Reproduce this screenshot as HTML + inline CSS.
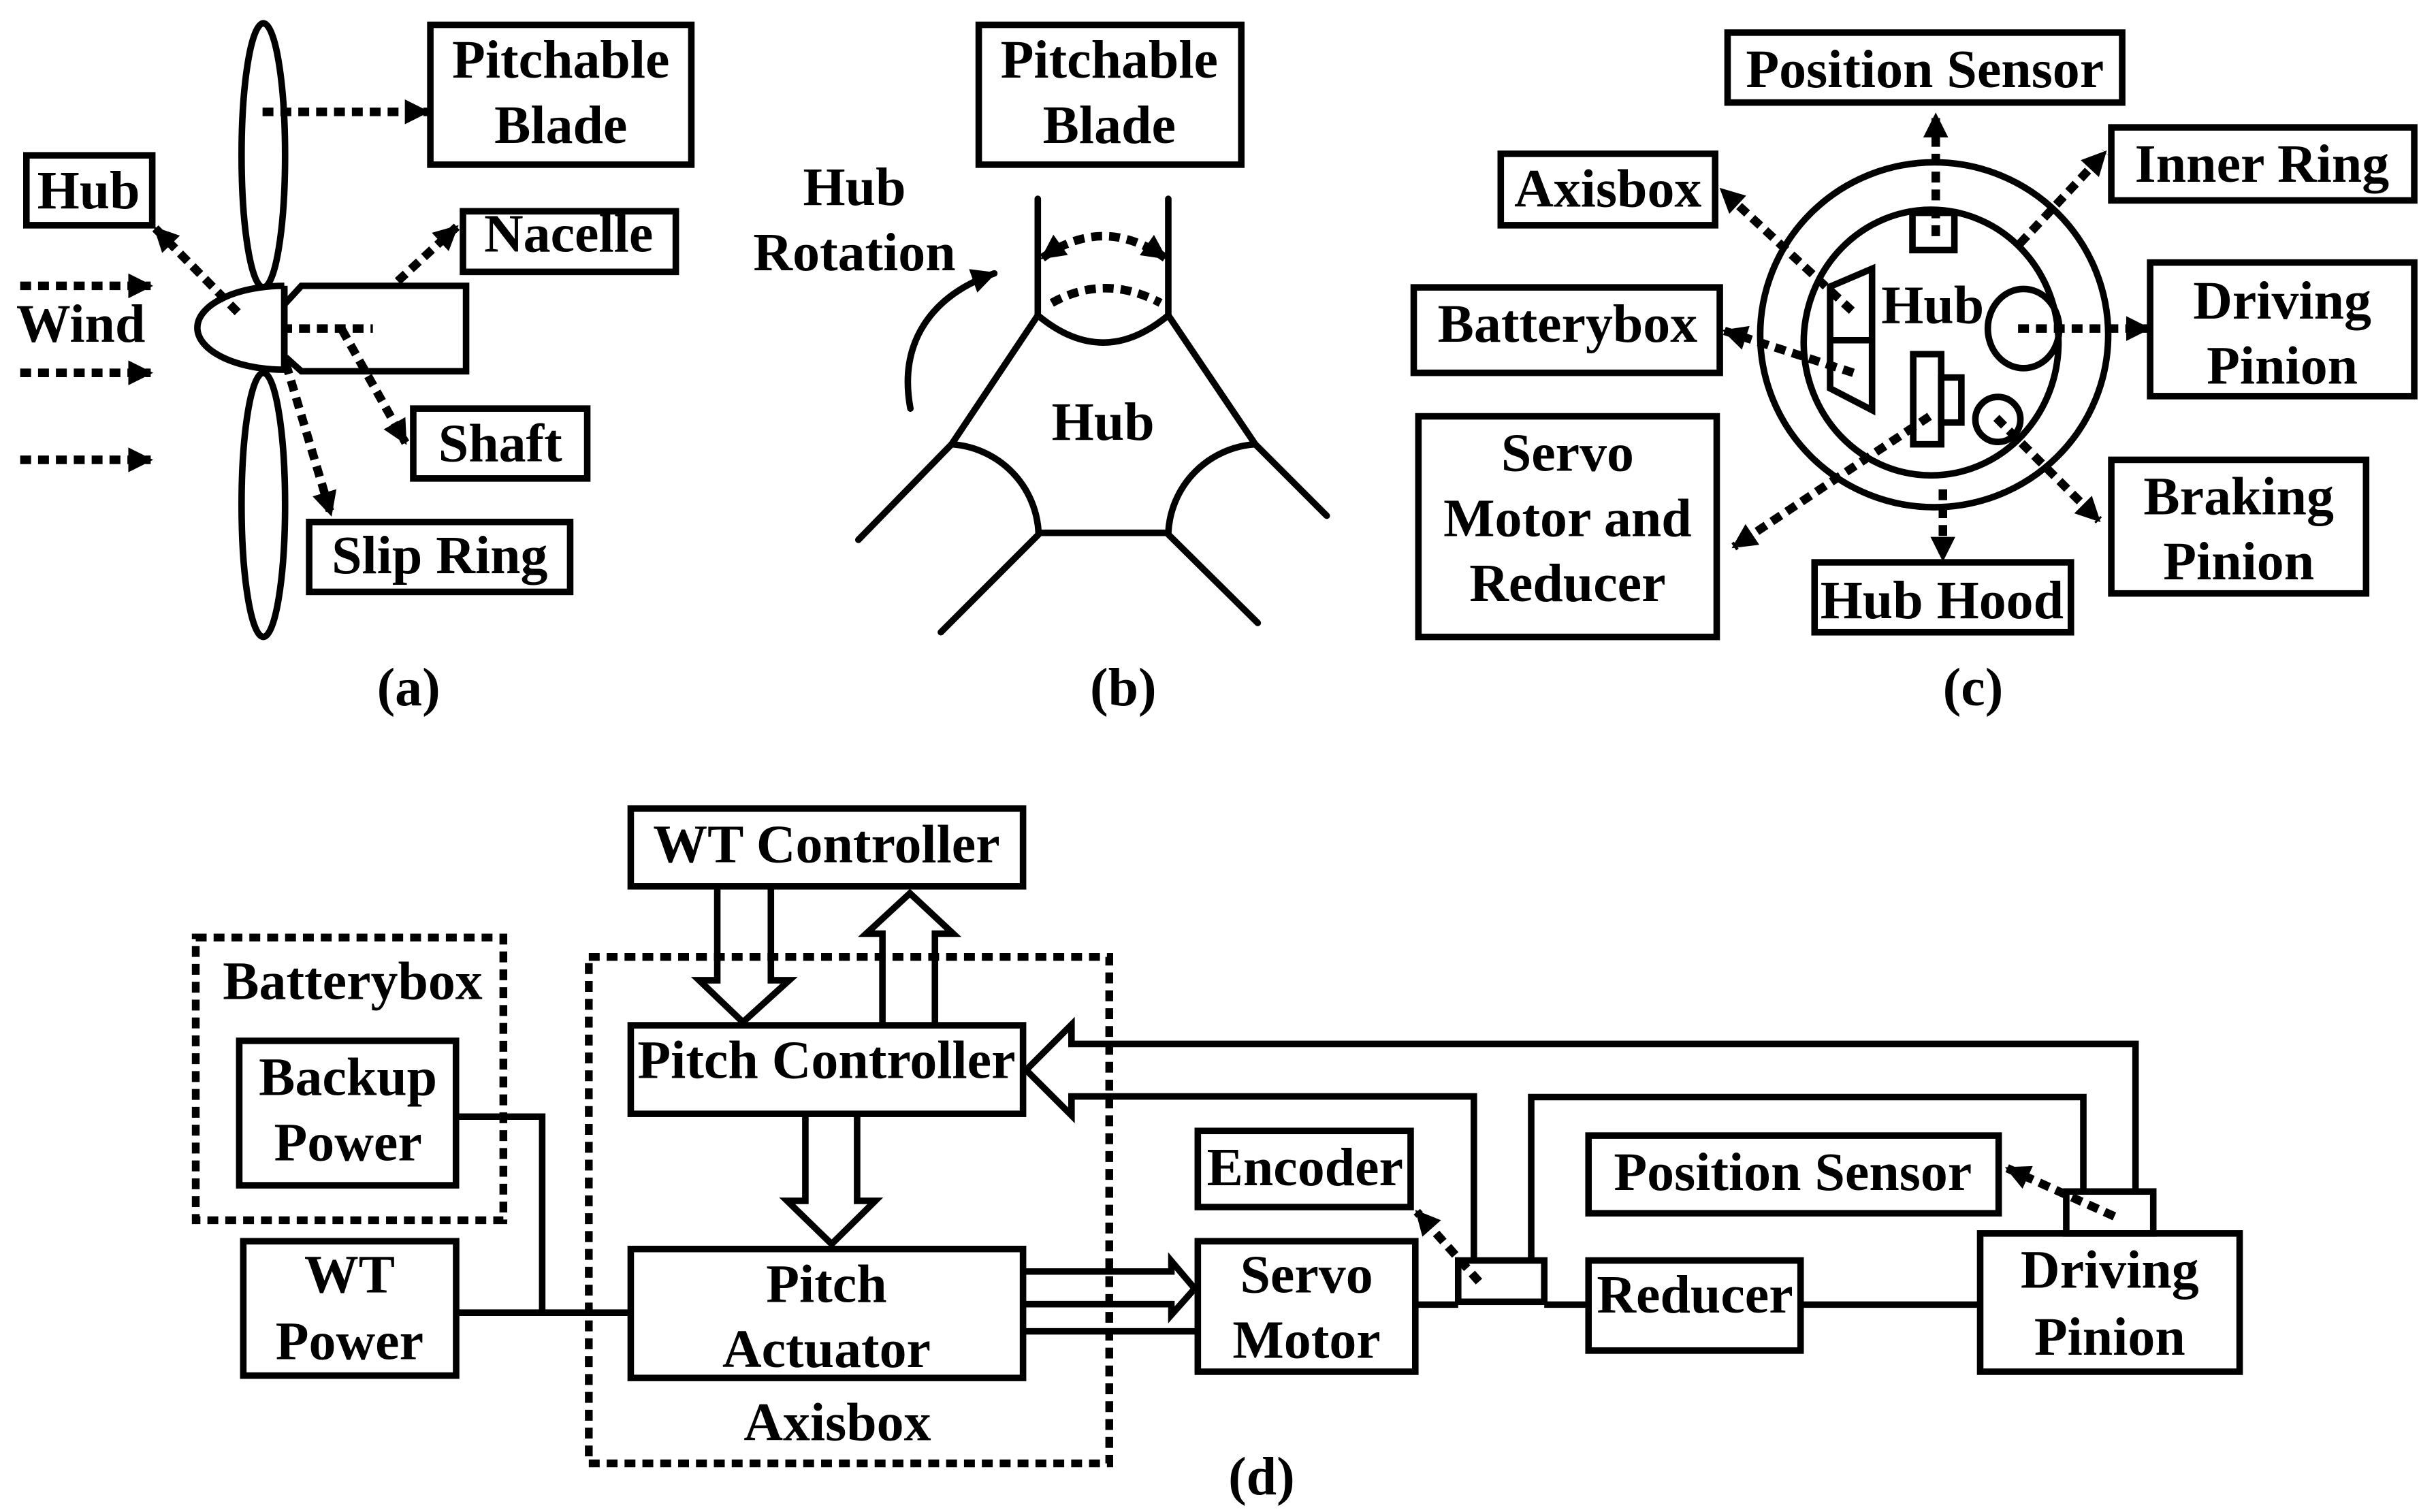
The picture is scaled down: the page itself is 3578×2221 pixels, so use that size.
<!DOCTYPE html>
<html><head><meta charset="utf-8"><style>
html,body{margin:0;padding:0;background:#fff;}
svg{display:block;}
text{font-family:"Liberation Serif",serif;font-weight:bold;font-size:35px;text-anchor:middle;fill:#000;}
</style></head><body>
<svg width="3578" height="2221" viewBox="0 0 1568 973.3" preserveAspectRatio="none" xmlns="http://www.w3.org/2000/svg">
<defs>
<marker id="ah" viewBox="0 0 10 10" refX="9" refY="5" markerWidth="18" markerHeight="16" markerUnits="userSpaceOnUse" orient="auto-start-reverse"><path d="M0,0 L10,5 L0,10 z" fill="#000"/></marker>
</defs>
<g fill="none" stroke="#000" stroke-width="4.2" stroke-linejoin="miter">
<!-- Panel (a) -->
<rect x="277" y="16" width="168" height="90"/>
<rect x="17" y="100" width="81" height="45"/>
<rect x="298" y="136" width="137" height="39"/>
<rect x="266" y="263" width="112" height="45"/>
<rect x="199" y="336" width="168" height="45"/>
<ellipse cx="169.5" cy="100" rx="14" ry="85"/>
<ellipse cx="169.5" cy="325" rx="14" ry="85"/>
<path d="M183,184 L183,238 A56,27 0 0 1 183,184" fill="#fff"/>
<path d="M183,196 L194,184 L300,184 L300,239 L194,239 L184,230"/>
<line x1="183" y1="184" x2="183" y2="238"/>
</g>
<g fill="none" stroke="#000" stroke-width="5.5" stroke-dasharray="7 4.5">
<line x1="169" y1="72" x2="275" y2="72" marker-end="url(#ah)"/>
<line x1="153" y1="201" x2="100" y2="147" marker-end="url(#ah)"/>
<line x1="256" y1="181" x2="294" y2="146" marker-end="url(#ah)"/>
<line x1="13" y1="184" x2="97" y2="184" marker-end="url(#ah)"/>
<line x1="13" y1="240" x2="97" y2="240" marker-end="url(#ah)"/>
<line x1="13" y1="296" x2="97" y2="296" marker-end="url(#ah)"/>
<line x1="181" y1="211.5" x2="240" y2="211.5"/>
<line x1="220" y1="212" x2="261" y2="285" marker-end="url(#ah)"/>
<line x1="184" y1="234" x2="213" y2="331" marker-end="url(#ah)"/>
</g>
<text x="361" y="50">Pitchable</text><text x="361" y="92">Blade</text>
<text x="57" y="134">Hub</text>
<text x="366" y="162">Nacelle</text>
<text x="322" y="297">Shaft</text>
<text x="283" y="369">Slip Ring</text>
<text x="52" y="220">Wind</text>
<text x="263" y="454">(a)</text>

<!-- Panel (b) -->
<g fill="none" stroke="#000" stroke-width="4.2" stroke-linecap="round">
<rect x="630" y="16" width="169" height="90" stroke-linecap="butt"/>
<line x1="668" y1="128" x2="668" y2="203"/>
<line x1="752" y1="128" x2="752" y2="203"/>
<path d="M668,203 Q710,238 752,203"/>
<line x1="668" y1="203" x2="612.5" y2="286"/>
<line x1="752" y1="203" x2="808" y2="286"/>
<path d="M612.5,286 A60,60 0 0 1 668.5,343"/>
<line x1="668.5" y1="343" x2="752" y2="343"/>
<path d="M752,343 A60,60 0 0 1 808,286"/>
<line x1="612.5" y1="286" x2="552.5" y2="347.5"/>
<line x1="808" y1="286" x2="854" y2="332"/>
<line x1="668.5" y1="344" x2="605.6" y2="407"/>
<line x1="752" y1="344" x2="809.6" y2="401"/>
<path d="M586,263 C578,220 600,190 640,176" marker-end="url(#ah)"/>
</g>
<g fill="none" stroke="#000" stroke-width="5.5" stroke-dasharray="7 4.5">
<path d="M677,195 Q711,176 747,195"/>
<path d="M671,166 Q710,138 750,166" marker-start="url(#ah)" marker-end="url(#ah)"/>
</g>
<text x="714" y="50">Pitchable</text><text x="714" y="92">Blade</text>
<text x="710" y="283">Hub</text>
<text x="550" y="132">Hub</text><text x="550" y="174">Rotation</text>
<text x="723" y="454">(b)</text>

<!-- Panel (c) -->
<g fill="none" stroke="#000" stroke-width="4.2">
<rect x="1112" y="21" width="254" height="45"/>
<rect x="1359" y="82" width="195" height="47"/>
<rect x="966" y="99" width="138" height="46"/>
<rect x="910" y="185" width="197" height="55"/>
<rect x="1384" y="169" width="170" height="86"/>
<rect x="913" y="268" width="192" height="142"/>
<rect x="1359" y="296" width="164" height="86"/>
<rect x="1168" y="362" width="165" height="45"/>
<ellipse cx="1245" cy="215.5" rx="112" ry="111"/>
<ellipse cx="1243" cy="220.5" rx="82" ry="85.5"/>
<rect x="1231" y="137" width="27" height="24"/>
<polygon points="1178,184.5 1205,173 1205,264 1178,250"/>
<line x1="1178" y1="219" x2="1205" y2="219"/>
<ellipse cx="1302.5" cy="211.5" rx="23" ry="25.5"/>
<rect x="1231.5" y="228" width="18" height="58"/>
<rect x="1249.5" y="243" width="13" height="29"/>
<circle cx="1286" cy="270" r="14.5"/>
</g>
<g fill="none" stroke="#000" stroke-width="5.5" stroke-dasharray="7 4.5">
<line x1="1246" y1="152" x2="1246" y2="74" marker-end="url(#ah)"/>
<line x1="1300" y1="157" x2="1355" y2="98" marker-end="url(#ah)"/>
<line x1="1192" y1="200" x2="1108" y2="122" marker-end="url(#ah)"/>
<line x1="1193" y1="240" x2="1110" y2="213" marker-end="url(#ah)"/>
<line x1="1299" y1="211.5" x2="1383" y2="211.5" marker-end="url(#ah)"/>
<line x1="1242" y1="268" x2="1116" y2="352" marker-end="url(#ah)"/>
<line x1="1250.6" y1="315" x2="1250.6" y2="360" marker-end="url(#ah)"/>
<line x1="1285" y1="269" x2="1351" y2="335" marker-end="url(#ah)"/>
</g>
<text x="1239" y="56">Position Sensor</text>
<text x="1456" y="117">Inner Ring</text>
<text x="1035" y="133">Axisbox</text>
<text x="1009" y="220">Batterybox</text>
<text x="1469" y="205">Driving</text><text x="1469" y="247">Pinion</text>
<text x="1009" y="303">Servo</text><text x="1009" y="345">Motor and</text><text x="1009" y="387">Reducer</text>
<text x="1441" y="331">Braking</text><text x="1441" y="373">Pinion</text>
<text x="1250" y="398">Hub Hood</text>
<text x="1244" y="208">Hub</text>
<text x="1270" y="454">(c)</text>

<!-- Panel (d) -->
<g fill="none" stroke="#000" stroke-width="5" stroke-dasharray="7 4.5">
<rect x="126" y="603.5" width="198" height="182"/>
<rect x="379" y="616" width="335" height="326"/>
</g>
<g fill="none" stroke="#000" stroke-width="5.5" stroke-dasharray="7 4.5">
<line x1="952" y1="825" x2="912" y2="780" marker-end="url(#ah)"/>
<line x1="1361" y1="783" x2="1292" y2="752" marker-end="url(#ah)"/>
</g>
<g fill="none" stroke="#000" stroke-width="4.2">
<rect x="406" y="520.5" width="252.5" height="50"/>
<rect x="406" y="660" width="252.5" height="57"/>
<rect x="406" y="804" width="252.5" height="83"/>
<rect x="154" y="670" width="139.5" height="93"/>
<rect x="156.6" y="799" width="137" height="86.5"/>
<rect x="771" y="728" width="137" height="49"/>
<rect x="771" y="799" width="140" height="84"/>
<rect x="938.6" y="811.4" width="55.4" height="26.6"/>
<rect x="1022.5" y="811.4" width="136.5" height="58"/>
<rect x="1022.5" y="731" width="264" height="50"/>
<rect x="1274.6" y="794" width="167" height="89"/>
<rect x="1330" y="767" width="56" height="27"/>
<path d="M461.7,571 L461.7,631 L450,631 L478.2,658 L508,631 L496.2,631 L496.2,571"/>
<path d="M568,659.5 L568,601 L557.6,601 L585.7,575 L613.5,601 L601.8,601 L601.8,659.5"/>
<path d="M518.4,717 L518.4,773 L506.7,773 L535.3,800.8 L563.4,773 L551.7,773 L551.7,717"/>
<path d="M659,818.5 L754,818.5 L754,811.8 L769,829.5 L754,846.4 L754,839.5 L659,839.5"/>
<line x1="659" y1="857" x2="771" y2="857"/>
<path d="M1374.6,767 L1374.6,672 L689.7,672 L689.7,659.6 L660.5,688.8 L689.7,718 L689.7,705.8 L948.7,705.8 L948.7,811.4"/>
<path d="M985.6,811.4 L985.6,706.2 L1341,706.2 L1341,767"/>
<polyline points="293.5,718.8 349,718.8 349,845"/>
<line x1="293.5" y1="845" x2="406" y2="845"/>
<line x1="911" y1="839.8" x2="938.6" y2="839.8"/>
<line x1="994" y1="839.8" x2="1022.5" y2="839.8"/>
<line x1="1159" y1="839.8" x2="1274.6" y2="839.8"/>
</g>
<text x="532" y="555">WT Controller</text>
<text x="532" y="694">Pitch Controller</text>
<text x="532" y="838">Pitch</text><text x="532" y="880">Actuator</text>
<text x="539" y="927">Axisbox</text>
<text x="227" y="643">Batterybox</text>
<text x="224" y="705">Backup</text><text x="224" y="747">Power</text>
<text x="225" y="832">WT</text><text x="225" y="875">Power</text>
<text x="840" y="763">Encoder</text>
<text x="841" y="832">Servo</text><text x="841" y="874">Motor</text>
<text x="1091" y="845">Reducer</text>
<text x="1154" y="766">Position Sensor</text>
<text x="1358" y="829">Driving</text><text x="1358" y="872">Pinion</text>
<text x="812" y="962">(d)</text>
</svg>
</body></html>
